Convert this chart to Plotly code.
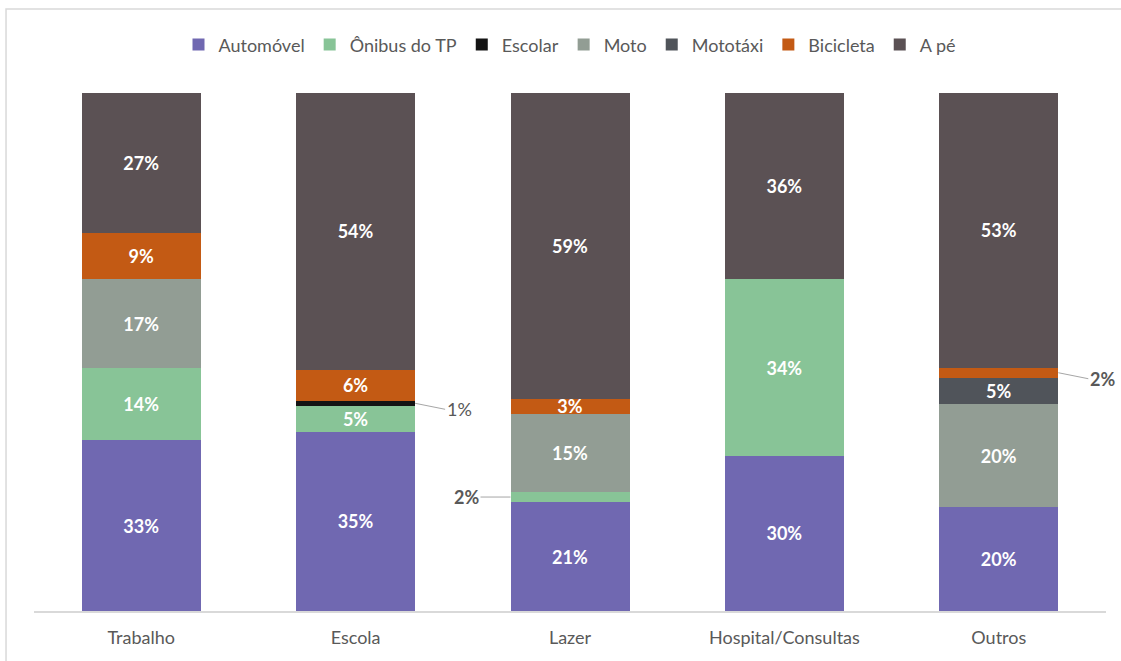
import plotly.graph_objects as go

# Trip purpose categories and modal share (%) per transport mode
categories = ["Trabalho", "Escola", "Lazer", "Hospital/Consultas", "Outros"]

modes = ["Automóvel", "Ônibus do TP", "Escolar", "Moto", "Mototáxi", "Bicicleta", "A pé"]

automovel = [33, 35, 21, 30, 20]
onibus_tp = [14, 5, 2, 34, 0]
escolar = [0, 1, 0, 0, 0]
moto = [17, 0, 15, 0, 20]
mototaxi = [0, 0, 0, 0, 5]
bicicleta = [9, 6, 3, 0, 2]
a_pe = [27, 54, 59, 36, 53]

series = [automovel, onibus_tp, escolar, moto, mototaxi, bicicleta, a_pe]

colors = ["#7068b1", "#88c497", "#141414", "#929d94", "#50545a", "#c35a14", "#5b5154"]

BAR_WIDTH = 0.555
LABEL_FONT = "Lato, 'Open Sans', sans-serif"

# Segments too thin for an inside label get an outside callout instead:
# (series index, category index, side)
callouts = [(2, 1, "right"), (1, 2, "left"), (5, 4, "right")]
callout_keys = {(s, c) for s, c, _ in callouts}

fig = go.Figure()
for si, (name, vals, col) in enumerate(zip(modes, series, colors)):
    labels = []
    for ci, v in enumerate(vals):
        if v == 0 or (si, ci) in callout_keys:
            labels.append("")
        else:
            labels.append(f"{v}%")
    fig.add_trace(go.Bar(
        name=name,
        x=categories,
        y=vals,
        width=BAR_WIDTH,
        marker=dict(color=col, line=dict(width=0)),
        text=labels,
        texttemplate="%{text}",
        textposition="inside",
        insidetextanchor="middle",
        constraintext="none",
        textangle=0,
        textfont=dict(family=LABEL_FONT, size=18, color="white", weight="bold"),
        hoverinfo="skip",
    ))

# Normalised stacked positions for the callouts
totals = [sum(s[ci] for s in series) for ci in range(len(categories))]
for si, ci, side in callouts:
    below = sum(series[k][ci] for k in range(si))
    mid = (below + series[si][ci] / 2) / totals[ci] * 100
    sign = 1 if side == "right" else -1
    bold = not (si == 2)
    fig.add_annotation(
        x=ci + sign * BAR_WIDTH / 2,
        y=mid,
        xref="x", yref="y",
        text=f"<b>{series[si][ci]}%</b>" if bold else f"{series[si][ci]}%",
        showarrow=True,
        arrowhead=0,
        arrowwidth=1,
        arrowcolor="#a6a6a6",
        ax=sign * 30,
        ay=6 if side == "right" else 0,
        xanchor="left" if side == "right" else "right",
        font=dict(family=LABEL_FONT, size=18, color="#595959"),
    )

# Light frame around the chart
fig.add_shape(
    type="rect", xref="paper", yref="paper",
    x0=-0.0261, x1=1.0177, y0=-0.104, y1=1.162,
    line=dict(color="#d9d9d9", width=1.5), fillcolor="rgba(0,0,0,0)",
    layer="below",
)

fig.update_layout(
    barmode="stack",
    barnorm="percent",
    width=1121, height=661,
    margin=dict(l=34, r=15, t=93, b=50),
    paper_bgcolor="white",
    plot_bgcolor="white",
    font=dict(family=LABEL_FONT, color="#595959"),
    showlegend=True,
    legend=dict(
        orientation="h",
        x=0.5, xanchor="center",
        y=1.093, yanchor="middle",
        font=dict(size=18, color="#595959"),
        itemwidth=30,
        tracegroupgap=0,
        traceorder="normal",
        bgcolor="rgba(0,0,0,0)",
    ),
    xaxis=dict(
        showline=True, linecolor="#d9d9d9", linewidth=1.5,
        ticks="", showgrid=False,
        tickfont=dict(size=18, color="#595959"),
        ticklabelstandoff=10,
        range=[-0.5, 4.5],
    ),
    yaxis=dict(
        range=[0, 100], visible=False, showgrid=False,
    ),
)

fig.write_html("out.html")
